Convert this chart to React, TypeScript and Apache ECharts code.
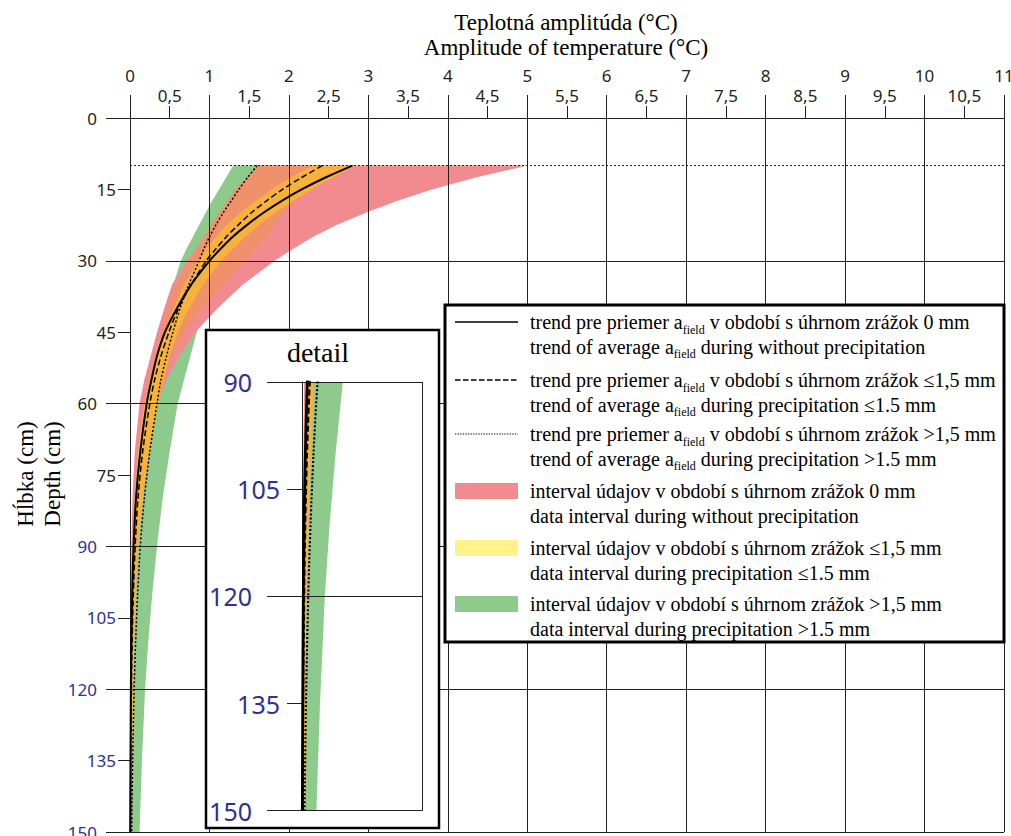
import React, { useEffect, useRef } from "react";
import * as echarts from "echarts";

// Depths (cm) at which every curve and interval edge is sampled
const depths = [10, 12.5, 15, 17.5, 20, 22.5, 25, 27.5, 30, 35, 40, 45, 50, 55, 60, 70, 80, 90, 100, 110, 120, 135, 150];

// Trend of average a_field (°C)
const trendNoRain = [2.8, 2.46, 2.16, 1.9, 1.67, 1.47, 1.29, 1.14, 1.0, 0.77, 0.59, 0.44, 0.34, 0.27, 0.21, 0.13, 0.075, 0.045, 0.028, 0.017, 0.011, 0.006, 0.003];
const trendLightRain = [2.42, 2.16, 1.92, 1.71, 1.52, 1.36, 1.21, 1.08, 0.96, 0.77, 0.61, 0.49, 0.39, 0.31, 0.25, 0.16, 0.1, 0.065, 0.042, 0.027, 0.018, 0.01, 0.006];
const trendHeavyRain = [1.6, 1.48, 1.37, 1.27, 1.17, 1.08, 1.0, 0.93, 0.87, 0.74, 0.63, 0.54, 0.46, 0.39, 0.34, 0.25, 0.18, 0.13, 0.096, 0.071, 0.052, 0.033, 0.021];

// Data intervals (°C): lower and upper edge per depth
const noRainLow = [1.62, 1.47, 1.33, 1.22, 1.12, 1.02, 0.93, 0.83, 0.72, 0.53, 0.43, 0.34, 0.26, 0.18, 0.12, 0.06, 0.03, 0.018, 0.011, 0.007, 0.004, 0.002, 0.001];
const noRainHigh = [5.0, 4.35, 3.8, 3.35, 2.95, 2.6, 2.3, 2.05, 1.82, 1.42, 1.1, 0.82, 0.62, 0.46, 0.34, 0.2, 0.12, 0.07, 0.045, 0.03, 0.02, 0.012, 0.008];
const lightRainLow = [2.3, 2.02, 1.78, 1.57, 1.38, 1.22, 1.08, 0.96, 0.86, 0.68, 0.55, 0.44, 0.34, 0.25, 0.18, 0.1, 0.06, 0.035, 0.025, 0.018, 0.012, 0.008, 0.005];
const lightRainHigh = [2.85, 2.55, 2.28, 2.05, 1.82, 1.62, 1.45, 1.29, 1.15, 0.92, 0.74, 0.6, 0.5, 0.42, 0.35, 0.24, 0.16, 0.1, 0.075, 0.055, 0.04, 0.03, 0.02];
const heavyRainLow = [1.3, 1.21, 1.12, 1.03, 0.95, 0.87, 0.79, 0.71, 0.64, 0.545, 0.46, 0.39, 0.33, 0.28, 0.24, 0.17, 0.11, 0.07, 0.05, 0.04, 0.03, 0.025, 0.02];
const heavyRainHigh = [1.7, 1.62, 1.54, 1.47, 1.4, 1.33, 1.27, 1.21, 1.15, 1.04, 0.93, 0.84, 0.76, 0.68, 0.6, 0.5, 0.41, 0.34, 0.28, 0.23, 0.19, 0.15, 0.12];
// Region where the intervals overlap each other
const sharedLow = [1.62, 1.47, 1.33, 1.22, 1.12, 1.02, 0.94, 0.85, 0.75, 0.58, 0.47, 0.4, 0.32, 0.25, 0.19, 0.11, 0.07, 0.04, 0.03, 0.02, 0.013, 0.008, 0.005];
const sharedHigh = [2.35, 2.28, 2.18, 2.05, 1.93, 1.82, 1.72, 1.58, 1.45, 1.16, 0.9, 0.68, 0.52, 0.4, 0.3, 0.18, 0.11, 0.07, 0.045, 0.03, 0.02, 0.012, 0.008];

const surfaceDepth = 10;

const titleLines = ["Teplotná amplitúda (°C)", "Amplitude of temperature (°C)"];
const depthTitles = ["Hĺbka (cm)", "Depth (cm)"];
const insetTitle = "detail";

const legendTexts = [
  ["trend pre priemer a{s|field} v období s úhrnom zrážok 0 mm", "trend of average a{s|field} during without precipitation"],
  ["trend pre priemer a{s|field} v období s úhrnom zrážok ≤1,5 mm", "trend of average a{s|field} during precipitation ≤1.5 mm"],
  ["trend pre priemer a{s|field} v období s úhrnom zrážok >1,5 mm", "trend of average a{s|field} during precipitation >1.5 mm"],
  ["interval údajov v období s úhrnom zrážok 0 mm", "data interval during without precipitation"],
  ["interval údajov v období s úhrnom zrážok ≤1,5 mm", "data interval during precipitation ≤1.5 mm"],
  ["interval údajov v období s úhrnom zrážok >1,5 mm", "data interval during precipitation >1.5 mm"],
];

const ink = "#231f20";
const blue = "#2e3192";
const sans = '"Noto Sans", sans-serif';
const serif = '"Liberation Serif", serif';

const colRed = "#f28b90";
const colGreen = "#8dca8b";
const colSalmon = "#ef926c";
const colOrange = "#f8b23c";
const colYellowKey = "#fff28a";

function band(low: number[], high: number[], fill: string, xi: number, yi: number, z: number) {
  return {
    type: "custom",
    xAxisIndex: xi,
    yAxisIndex: yi,
    z,
    silent: true,
    clip: true,
    data: [[0.5, 120]],
    renderItem: (_p: any, api: any) => {
      const pts: number[][] = [];
      for (let i = 0; i < depths.length; i++) pts.push(api.coord([low[i], depths[i]]));
      for (let i = depths.length - 1; i >= 0; i--) pts.push(api.coord([high[i], depths[i]]));
      return { type: "polygon", shape: { points: pts }, style: { fill, stroke: null } };
    },
  };
}

function trend(values: number[], lineStyle: any, xi: number, yi: number, z: number, extra: any = {}) {
  return {
    type: "line",
    xAxisIndex: xi,
    yAxisIndex: yi,
    z,
    silent: true,
    symbol: "none",
    smooth: 0.3,
    clip: true,
    lineStyle,
    data: depths.map((d, i) => [values[i], d]),
    ...extra,
  };
}

function buildSeries(xi: number, yi: number, zBand: number, zLine: number, inset: boolean) {
  const w = inset ? 1.4 : 1;
  return [
    band(heavyRainLow, heavyRainHigh, colGreen, xi, yi, zBand),
    band(noRainLow, noRainHigh, colRed, xi, yi, zBand),
    band(sharedLow, sharedHigh, colSalmon, xi, yi, zBand),
    band(lightRainLow, lightRainHigh, colOrange, xi, yi, zBand),
    trend(trendNoRain, { color: "#000", width: 2 * w, type: "solid" }, xi, yi, zLine,
      inset
        ? {}
        : {
            markLine: {
              silent: true,
              symbol: ["none", "none"],
              label: { show: false },
              lineStyle: { color: ink, width: 1, type: [2, 2] },
              data: [{ yAxis: surfaceDepth }],
            },
          }),
    trend(trendLightRain, { color: "#000", width: 1.5 * w, type: [6, 3] }, xi, yi, zLine),
    trend(trendHeavyRain, { color: "#000", width: 1.5 * w, type: [2, 2] }, xi, yi, zLine),
  ];
}

const labelColor = (v: any) => (Number(v) >= 90 ? blue : ink);

function legendGraphics() {
  const els: any[] = [];
  els.push({
    type: "rect",
    z: 100,
    shape: { x: 445, y: 305, width: 559, height: 337 },
    style: { fill: "#fff", stroke: "#000", lineWidth: 3 },
  });
  const rowY = [322, 380, 434, 491, 548, 604];
  const keyX1 = 455;
  const keyX2 = 518;
  els.push({ type: "line", z: 101, shape: { x1: keyX1, y1: rowY[0], x2: keyX2, y2: rowY[0] }, style: { stroke: "#000", lineWidth: 1.5 } });
  els.push({ type: "line", z: 101, shape: { x1: keyX1, y1: rowY[1], x2: keyX2, y2: rowY[1] }, style: { stroke: "#000", lineWidth: 1.3, lineDash: [5.5, 2.5] } });
  els.push({ type: "line", z: 101, shape: { x1: keyX1, y1: rowY[2], x2: keyX2, y2: rowY[2] }, style: { stroke: "#000", lineWidth: 1.2, lineDash: [1.3, 1.3] } });
  const swatches = [colRed, colYellowKey, colGreen];
  swatches.forEach((c, k) => {
    els.push({ type: "rect", z: 101, shape: { x: keyX1, y: rowY[3 + k] - 8, width: keyX2 - keyX1, height: 16 }, style: { fill: c } });
  });
  legendTexts.forEach((pair, r) => {
    pair.forEach((t, j) => {
      els.push({
        type: "text",
        z: 101,
        x: 530,
        y: rowY[r] + j * 24.5,
        style: {
          text: t,
          font: `20px ${serif}`,
          fill: "#000",
          align: "left",
          verticalAlign: "middle",
          textAlign: "left",
          textVerticalAlign: "middle",
          rich: { s: { fontSize: 12, fontFamily: serif, fill: "#000", padding: [15, 0, 0, 0] } },
        },
      });
    });
  });
  return els;
}

export default function App() {
  const ref = useRef<HTMLDivElement>(null);
  useEffect(() => {
    if (!ref.current) return;
    const chart = echarts.init(ref.current, null, { renderer: "svg" });
    const axisLine = { show: true, lineStyle: { color: ink, width: 1 } };
    const option: any = {
      animation: false,
      backgroundColor: "#fff",
      grid: [
        { left: 130, top: 118, width: 874, height: 714, outerBoundsMode: "none", containLabel: false },
        { left: 302, top: 382, width: 120, height: 428.7, outerBoundsMode: "none", containLabel: false },
      ],
      xAxis: [
        {
          gridIndex: 0, type: "value", position: "top", min: 0, max: 11, interval: 1, z: 3,
          axisLine,
          axisTick: { show: true, length: 23, lineStyle: { color: ink, width: 1 } },
          axisLabel: { margin: 34, fontSize: 17, fontFamily: sans, color: ink },
          splitLine: { show: true, lineStyle: { color: ink, width: 1 } },
        },
        {
          gridIndex: 0, type: "value", position: "top", min: 0, max: 11, interval: 0.5, z: 3,
          axisLine: { show: false },
          axisTick: { show: true, length: 12, lineStyle: { color: ink, width: 1 } },
          axisLabel: {
            margin: 14, fontSize: 17, fontFamily: sans, color: ink,
            formatter: (v: number) => (Number.isInteger(v) ? "" : String(v).replace(".", ",")),
          },
          splitLine: { show: false },
        },
        {
          gridIndex: 1, type: "value", min: 0, max: 1, interval: 1, z: 111,
          axisLine: { show: false }, axisTick: { show: false }, axisLabel: { show: false },
          splitLine: { show: true, lineStyle: { color: ink, width: 1 } },
        },
      ],
      yAxis: [
        {
          gridIndex: 0, type: "value", inverse: true, position: "left", min: 0, max: 150, interval: 30, z: 3,
          axisLine,
          axisTick: { show: true, length: 24, lineStyle: { color: ink, width: 1 } },
          axisLabel: { margin: 33, fontSize: 17, fontFamily: sans, color: labelColor },
          splitLine: { show: true, lineStyle: { color: ink, width: 1 } },
        },
        {
          gridIndex: 0, type: "value", inverse: true, position: "left", min: 0, max: 150, interval: 15, z: 3,
          axisLine: { show: false },
          axisTick: { show: true, length: 12, lineStyle: { color: ink, width: 1 } },
          axisLabel: {
            margin: 14, fontSize: 17, fontFamily: sans, color: labelColor,
            formatter: (v: number) => (v % 30 === 0 ? "" : String(v)),
          },
          splitLine: { show: false },
        },
        {
          gridIndex: 1, type: "value", inverse: true, position: "left", min: 90, max: 150, interval: 30, z: 111,
          axisLine,
          axisTick: { show: true, length: 35, lineStyle: { color: ink, width: 1 } },
          axisLabel: { margin: 50, fontSize: 25, fontFamily: sans, color: blue },
          splitLine: { show: true, lineStyle: { color: ink, width: 1 } },
        },
        {
          gridIndex: 1, type: "value", inverse: true, position: "left", min: 90, max: 150, interval: 15, z: 111,
          axisLine: { show: false },
          axisTick: { show: true, length: 15, lineStyle: { color: ink, width: 1 } },
          axisLabel: {
            margin: 22, fontSize: 25, fontFamily: sans, color: blue,
            formatter: (v: number) => (v % 30 === 0 ? "" : String(v)),
          },
          splitLine: { show: false },
        },
      ],
      series: [...buildSeries(0, 0, 1, 5, false), ...buildSeries(2, 2, 110, 112, true)],
      graphic: {
        elements: [
          ...titleLines.map((t, i) => ({
            type: "text", x: 566, y: 22 + i * 25,
            style: { text: t, font: `23px ${serif}`, fill: "#000", align: "center", verticalAlign: "middle", textAlign: "center", textVerticalAlign: "middle" },
          })),
          ...depthTitles.map((t, i) => ({
            type: "text", x: 25 + i * 27, y: 474, rotation: Math.PI / 2,
            style: { text: t, font: `23px ${serif}`, fill: "#000", align: "center", verticalAlign: "middle", textAlign: "center", textVerticalAlign: "middle" },
          })),
          {
            type: "rect", z: 100,
            shape: { x: 206, y: 330, width: 233, height: 498 },
            style: { fill: "#fff", stroke: "#000", lineWidth: 2.5 },
          },
          {
            type: "text", z: 101, x: 318, y: 352,
            style: { text: insetTitle, font: `28px ${serif}`, fill: "#000", align: "center", verticalAlign: "middle", textAlign: "center", textVerticalAlign: "middle" },
          },
          ...legendGraphics(),
        ],
      },
    };
    chart.setOption(option);
    return () => chart.dispose();
  }, []);
  return <div ref={ref} style={{ position: "fixed", left: 0, top: 0, width: 1011, height: 836 }} />;
}
